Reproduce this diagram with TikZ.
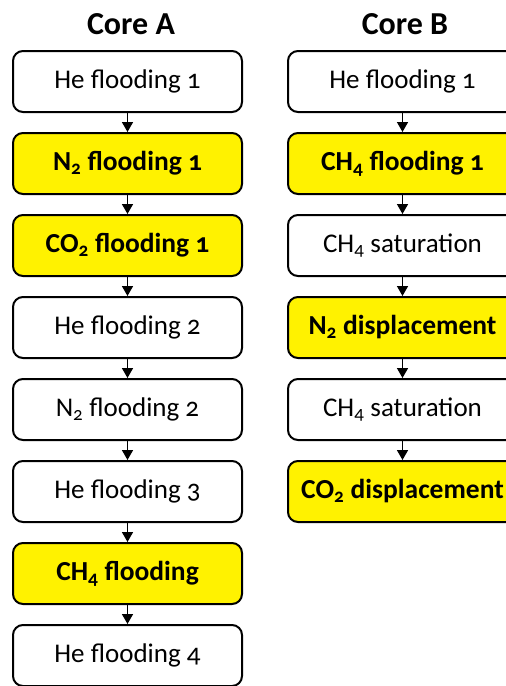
\documentclass[tikz,border=0pt]{standalone}
\usepackage{fontspec}
\setmainfont[Numbers=OldStyle]{Carlito}
\usetikzlibrary{arrows.meta}
\tikzset{
  stepbox/.style={draw=black, line width=2pt, rounded corners=10pt, minimum width=229pt, minimum height=61pt, fill=white, inner sep=0pt, font=\fontsize{27}{32}\selectfont},
  hl/.style={stepbox, fill=yellow, font=\fontsize{27.5}{32}\selectfont\bfseries},
  title/.style={font=\fontsize{32}{36}\selectfont\bfseries},
  arr/.style={line width=1.6pt, -{Triangle[length=10pt,width=11pt]}}
}
\newcommand{\sbs}[1]{\textsubscript{#1}}
\begin{document}
\begin{tikzpicture}[x=1pt,y=-1pt]
\useasboundingbox (0,0) rectangle (506,686);
\clip (0,0) rectangle (506,686);
\node[title] (ta) at (131,24) {Core A};
\node[title] (tb) at (405,24) {Core B};
% Core A
\node[stepbox] (a1) at (127.5,81.5) {He flooding 1};
\node[hl] (a2) at (127.5,163.5) {N\sbs{2} flooding 1};
\node[hl] (a3) at (127.5,245.5) {CO\sbs{2} flooding 1};
\node[stepbox] (a4) at (127.5,327.5) {He flooding 2};
\node[stepbox] (a5) at (127.5,409.5) {N\sbs{2} flooding 2};
\node[stepbox] (a6) at (127.5,491.5) {He flooding 3};
\node[hl] (a7) at (127.5,573.5) {CH\sbs{4} flooding};
\node[stepbox] (a8) at (127.5,655.5) {He flooding 4};
% Core B
\node[stepbox] (b1) at (402.5,81.5) {He flooding 1};
\node[hl] (b2) at (402.5,163.5) {CH\sbs{4} flooding 1};
\node[stepbox] (b3) at (402.5,245.5) {CH\sbs{4} saturation};
\node[hl] (b4) at (402.5,327.5) {N\sbs{2} displacement};
\node[stepbox] (b5) at (402.5,409.5) {CH\sbs{4} saturation};
\node[hl] (b6) at (402.5,491.5) {CO\sbs{2} displacement};
\foreach \i/\j in {1/2,2/3,3/4,4/5,5/6,6/7,7/8}{
  \draw[arr] (a\i.south) -- (a\j.north);
}
\foreach \i/\j in {1/2,2/3,3/4,4/5,5/6}{
  \draw[arr] (b\i.south) -- (b\j.north);
}
\end{tikzpicture}
\end{document}
